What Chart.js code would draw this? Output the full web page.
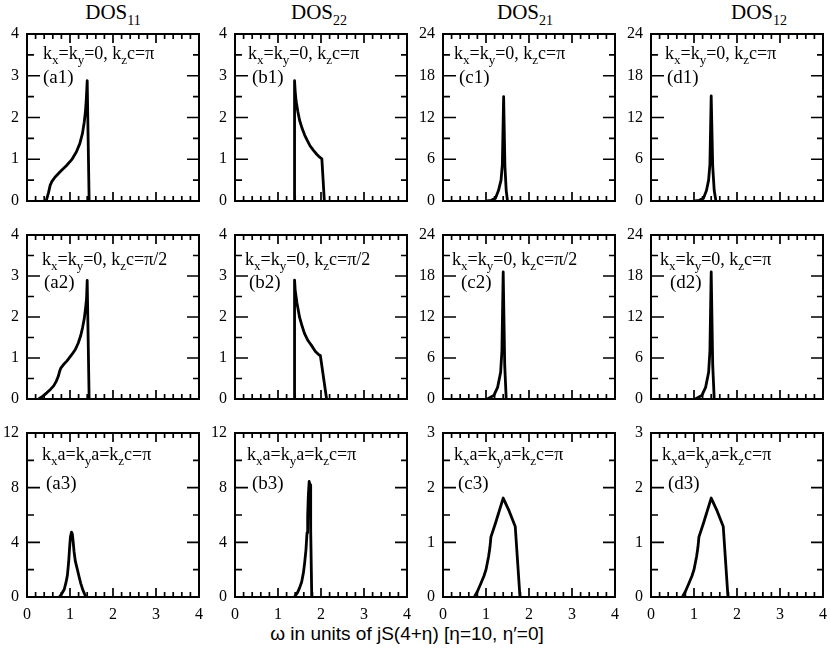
<!DOCTYPE html>
<html><head><meta charset="utf-8">
<script src="https://cdn.jsdelivr.net/npm/chart.js@4.4.0/dist/chart.umd.min.js"></script>
<style>
html,body{margin:0;padding:0;background:#fff;}
body{width:830px;height:655px;position:relative;overflow:hidden;}
canvas{position:absolute;}
.title{position:absolute;top:2px;font-family:"Liberation Serif",serif;font-size:21px;line-height:21px;white-space:nowrap;transform:translateX(-50%);color:#000;}
.title sub{font-size:14px;line-height:0;vertical-align:baseline;position:relative;top:6px;}
#xlabel{position:absolute;top:624px;left:407px;font-family:"Liberation Sans",Arial,sans-serif;font-size:19px;line-height:19px;white-space:nowrap;transform:translateX(-50%);color:#000;}
</style></head><body>
<div class="title" style="left:113px">DOS<sub>11</sub></div>
<div class="title" style="left:319px">DOS<sub>22</sub></div>
<div class="title" style="left:525px">DOS<sub>21</sub></div>
<div class="title" style="left:759px">DOS<sub>12</sub></div>
<div id="xlabel">ω in units of jS(4+η) [η=10, η′=0]</div>
<script>
// ---- data ----
const omegaTicks = [0, 1, 2, 3, 4];

const a1X = [0.446, 0.50, 0.54, 0.58, 0.65, 0.77, 0.92, 1.04, 1.15, 1.23, 1.29, 1.33, 1.36, 1.38, 1.40, 1.445];
const a1Y = [0, 0.20, 0.38, 0.47, 0.57, 0.70, 0.85, 0.99, 1.18, 1.38, 1.62, 1.88, 2.15, 2.45, 2.88, 0];

const b1X = [1.385, 1.385, 1.40, 1.42, 1.46, 1.50, 1.56, 1.62, 1.68, 1.74, 1.82, 1.90, 1.97, 2.02, 2.078];
const b1Y = [0, 2.88, 2.62, 2.40, 2.15, 1.94, 1.74, 1.58, 1.45, 1.33, 1.22, 1.12, 1.05, 1.01, 0];

const c1X = [1.02, 1.12, 1.22, 1.29, 1.35, 1.38, 1.41, 1.44, 1.47, 1.50];
const c1Y = [0, 0.1, 0.4, 1.5, 3.0, 5.25, 15.0, 5.0, 1.5, 0];

const d1X = [1.02, 1.12, 1.22, 1.29, 1.34, 1.37, 1.40, 1.435, 1.47, 1.51];
const d1Y = [0, 0.1, 0.4, 1.5, 3.0, 5.25, 15.1, 5.0, 1.5, 0];

const a2X = [0.27, 0.37, 0.46, 0.55, 0.62, 0.68, 0.73, 0.76, 0.79, 0.85, 0.93, 1.04, 1.12, 1.19, 1.25, 1.29, 1.33, 1.36, 1.385, 1.40, 1.445];
const a2Y = [0, 0.07, 0.15, 0.24, 0.32, 0.43, 0.56, 0.68, 0.76, 0.84, 0.93, 1.08, 1.20, 1.36, 1.55, 1.73, 1.95, 2.20, 2.45, 2.89, 0];

const b2X = [1.385, 1.385, 1.40, 1.44, 1.50, 1.56, 1.615, 1.70, 1.77, 1.87, 1.95, 1.985, 2.13];
const b2Y = [0, 2.90, 2.65, 2.35, 2.00, 1.78, 1.60, 1.42, 1.32, 1.16, 1.08, 1.06, 0];

const c2X = [1.03, 1.18, 1.27, 1.34, 1.37, 1.40, 1.435, 1.47];
const c2Y = [0, 0.5, 1.7, 3.9, 7.0, 18.6, 5.0, 0];

const d2X = [1.03, 1.18, 1.27, 1.34, 1.37, 1.40, 1.435, 1.47];
const d2Y = [0, 0.5, 1.7, 3.9, 7.0, 18.6, 5.0, 0];

const a3X = [0.75, 0.80, 0.865, 0.91, 0.94, 0.97, 0.99, 1.01, 1.035, 1.055, 1.075, 1.095, 1.125, 1.165, 1.21, 1.25, 1.30, 1.37];
const a3Y = [0, 0.2, 0.55, 1.1, 1.6, 2.6, 3.6, 4.4, 4.75, 4.6, 4.0, 3.3, 2.6, 2.1, 1.5, 1.0, 0.5, 0];

const b3X = [1.38, 1.45, 1.50, 1.55, 1.59, 1.62, 1.65, 1.675, 1.69, 1.705, 1.725, 1.745, 1.76, 1.785];
const b3Y = [0, 0.3, 0.65, 1.1, 1.75, 2.5, 3.45, 4.7, 5.9, 7.4, 8.45, 8.2, 5.0, 0];

const c3X = [0.73, 0.80, 0.885, 0.95, 1.00, 1.06, 1.09, 1.115, 1.22, 1.40, 1.54, 1.68, 1.79];
const c3Y = [0, 0.10, 0.255, 0.38, 0.50, 0.74, 0.90, 1.10, 1.35, 1.81, 1.57, 1.29, 0];

const d3X = [0.73, 0.80, 0.885, 0.95, 1.00, 1.06, 1.09, 1.115, 1.22, 1.40, 1.54, 1.68, 1.79];
const d3Y = [0, 0.10, 0.255, 0.38, 0.50, 0.74, 0.90, 1.10, 1.35, 1.81, 1.57, 1.29, 0];

const yTicks1 = [0, 1, 2, 3, 4];
const yTicks24 = [0, 6, 12, 18, 24];
const yTicks12 = [0, 4, 8, 12];
const yTicks3 = [0, 1, 2, 3];

const annPi = 'k_x=k_y=0, k_zc=π';
const annPi2 = 'k_x=k_y=0, k_zc=π/2';
const annR = 'k_xa=k_ya=k_zc=π';

// ---- panels ----
const panels = [
  {x:a1X, y:a1Y, yt:yTicks1, ann:annPi,  lab:'(a1)', col:0, row:0},
  {x:b1X, y:b1Y, yt:yTicks1, ann:annPi,  lab:'(b1)', col:1, row:0},
  {x:c1X, y:c1Y, yt:yTicks24, ann:annPi, lab:'(c1)', col:2, row:0},
  {x:d1X, y:d1Y, yt:yTicks24, ann:annPi, lab:'(d1)', col:3, row:0},
  {x:a2X, y:a2Y, yt:yTicks1, ann:annPi2, lab:'(a2)', col:0, row:1},
  {x:b2X, y:b2Y, yt:yTicks1, ann:annPi2, lab:'(b2)', col:1, row:1},
  {x:c2X, y:c2Y, yt:yTicks24, ann:annPi2, lab:'(c2)', col:2, row:1},
  {x:d2X, y:d2Y, yt:yTicks24, ann:annPi, lab:'(d2)', col:3, row:1},
  {x:a3X, y:a3Y, yt:yTicks12, ann:annR,  lab:'(a3)', col:0, row:2},
  {x:b3X, y:b3Y, yt:yTicks12, ann:annR,  lab:'(b3)', col:1, row:2},
  {x:c3X, y:c3Y, yt:yTicks3, ann:annR,   lab:'(c3)', col:2, row:2},
  {x:d3X, y:d3Y, yt:yTicks3, ann:annR,   lab:'(d3)', col:3, row:2},
];

// ---- layout ----
const colLeft = [27, 235, 443, 651];
const PW = 172;
const rowTop = [34, 235, 433];
const rowH = [167, 164, 164];
const annDY = [25, 30, 27];
const labDY = [49, 53, 56];
const annDX = [[16,13,11,14],[15,10,9,9],[15,12,11,11]];
const labDX = [[16,17,16,16],[17,14,18,19],[19,17,15,17]];
const LW = 30, PADR = 12, PADV = 20, XH = 30;
const SERIF = '"Liberation Serif", "Times New Roman", serif';

function drawRich(ctx, x, y, text, size, subSize) {
  let cx = x;
  for (let i = 0; i < text.length; i++) {
    let ch = text[i], sub = false;
    if (ch === '_' && i + 1 < text.length) { ch = text[++i]; sub = true; }
    ctx.font = (sub ? subSize : size) + 'px ' + SERIF;
    ctx.fillText(ch, cx, sub ? y + 5 : y);
    cx += ctx.measureText(ch).width;
  }
}

const framePlugin = {
  id: 'frame',
  afterDatasetsDraw(chart, args, o) {
    const {ctx, chartArea: a} = chart;
    const xs = chart.scales.x, ys = chart.scales.y;
    ctx.save();
    ctx.strokeStyle = '#000';
    ctx.lineWidth = 1.7;
    ctx.lineCap = 'butt';
    const xMaj = o.xt[1] - o.xt[0], xMin = xMaj / 5;
    const nx = Math.round((xs.max - xs.min) / xMin);
    ctx.beginPath();
    for (let i = 1; i < nx; i++) {
      const major = i % 5 === 0;
      const px = xs.getPixelForValue(xs.min + i * xMin);
      const len = major ? 9 : 5;
      ctx.moveTo(px, a.bottom); ctx.lineTo(px, a.bottom - len);
      ctx.moveTo(px, a.top); ctx.lineTo(px, a.top + len);
    }
    const yMaj = o.yt[1] - o.yt[0], yMin = yMaj / 2;
    const ny = Math.round((ys.max - ys.min) / yMin);
    for (let i = 1; i < ny; i++) {
      const major = i % 2 === 0;
      const py = ys.getPixelForValue(ys.min + i * yMin);
      ctx.moveTo(a.left, py); ctx.lineTo(a.left + (major ? 13 : 7), py);
      ctx.moveTo(a.right, py); ctx.lineTo(a.right - (major ? 12 : 6), py);
    }
    ctx.stroke();
    ctx.lineWidth = 2;
    ctx.strokeRect(a.left, a.top, a.right - a.left, a.bottom - a.top);
    ctx.fillStyle = '#000';
    ctx.textBaseline = 'alphabetic';
    ctx.textAlign = 'left';
    drawRich(ctx, a.left + o.annDX, a.top + o.annDY, o.ann, 18, 13);
    ctx.font = '19px ' + SERIF;
    ctx.fillText(o.lab, a.left + o.labDX, a.top + o.labDY);
    ctx.restore();
  }
};

panels.forEach(p => {
  const bottom = p.row === 2;
  const H = rowH[p.row];
  const cv = document.createElement('canvas');
  cv.width = LW + PW + PADR;
  cv.height = PADV + H + (bottom ? XH : PADV);
  cv.style.left = (colLeft[p.col] - LW) + 'px';
  cv.style.top = (rowTop[p.row] - PADV) + 'px';
  document.body.appendChild(cv);
  const yt = p.yt;
  new Chart(cv, {
    type: 'line',
    data: {datasets: [{
      data: p.x.map((v, i) => ({x: v, y: p.y[i]})),
      borderColor: '#000', borderWidth: 2.8, pointRadius: 0, tension: 0, fill: false,
      borderJoinStyle: 'round'
    }]},
    options: {
      responsive: false, animation: false, devicePixelRatio: 1,
      layout: {autoPadding: false, padding: {left: 0, top: PADV, right: PADR, bottom: bottom ? 0 : PADV}},
      plugins: {
        legend: {display: false}, tooltip: {enabled: false},
        frame: {xt: omegaTicks, yt: yt, ann: p.ann, lab: p.lab,
          annDX: annDX[p.row][p.col], annDY: annDY[p.row],
          labDX: labDX[p.row][p.col], labDY: labDY[p.row]}
      },
      scales: {
        x: {type: 'linear', min: omegaTicks[0], max: omegaTicks[omegaTicks.length - 1],
          afterBuildTicks: s => { s.ticks = omegaTicks.map(v => ({value: v})); },
          ticks: {display: bottom, color: '#000', font: {family: SERIF, size: 16}, padding: 8, maxRotation: 0, autoSkip: false},
          grid: {display: false, drawTicks: false}, border: {display: false},
          afterFit: s => { s.height = bottom ? XH : 0; }},
        y: {type: 'linear', min: yt[0], max: yt[yt.length - 1],
          afterBuildTicks: s => { s.ticks = yt.map(v => ({value: v})); },
          ticks: {color: '#000', font: {family: SERIF, size: 16}, padding: 8, autoSkip: false},
          grid: {display: false, drawTicks: false}, border: {display: false},
          afterFit: s => { s.width = LW; }}
      }
    },
    plugins: [framePlugin]
  });
});
</script>
</body></html>
